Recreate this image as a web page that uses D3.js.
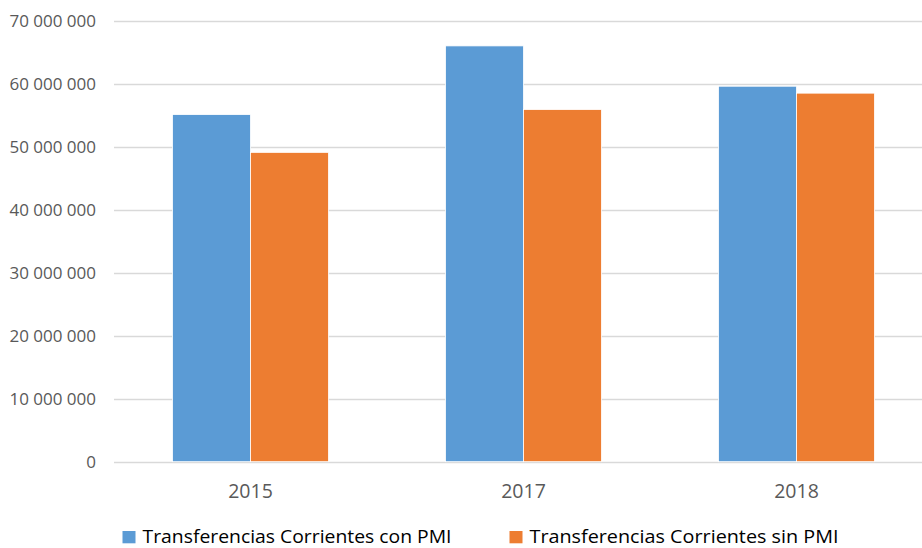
<!DOCTYPE html>
<html>
<head>
<meta charset="utf-8">
<script src="https://cdn.jsdelivr.net/npm/d3@7"></script>
<style>
  html, body { margin: 0; padding: 0; background: #fff; }
  svg { display: block; font-family: "Open Sans", sans-serif; }
</style>
</head>
<body>
<div id="chart"></div>
<script>
// ── Data ──────────────────────────────────────────────────────────────────
const years = ["2015", "2017", "2018"];
const seriesNames = ["Transferencias Corrientes con PMI", "Transferencias Corrientes sin PMI"];
const conPMI = [55100000, 66000000, 59600000];
const sinPMI = [49100000, 55900000, 58500000];
const yTicks = [0, 10000000, 20000000, 30000000, 40000000, 50000000, 60000000, 70000000];
const colors = ["#5B9BD5", "#ED7D31"];

const W = 922, H = 548;
const rows = years.map((y, i) => ({ year: y, values: [conPMI[i], sinPMI[i]] }));

const svg = d3.select("#chart").append("svg").attr("width", W).attr("height", H);

// plot area runs past the right edge (the reference is cropped there)
const x0 = d3.scaleBand().domain(years).range([114, 933]).padding(0);
const x1 = d3.scaleBand().domain([0, 1]).range([0, x0.bandwidth()]).paddingInner(0).paddingOuter(0.75);
const y = d3.scaleLinear().domain([0, 70000000]).range([461.7, 20.7]);

const fmt = (v) => d3.format(",")(v).replace(/,/g, " ");

// ── Gridlines ─────────────────────────────────────────────────────────────
svg.append("g")
  .selectAll("line")
  .data(yTicks)
  .join("line")
  .attr("x1", 114)
  .attr("x2", W)
  .attr("y1", (d) => Math.round(y(d)) + 0.5)
  .attr("y2", (d) => Math.round(y(d)) + 0.5)
  .attr("stroke", "#d9d9d9")
  .attr("stroke-width", 1.3);

// ── Y labels ──────────────────────────────────────────────────────────────
svg.append("g")
  .selectAll("text")
  .data(yTicks)
  .join("text")
  .attr("x", 96)
  .attr("y", (d) => y(d) + 6.5)
  .attr("text-anchor", "end")
  .attr("fill", "#595959")
  .attr("font-size", 17)
  .text((d) => fmt(d));

// ── Bars ──────────────────────────────────────────────────────────────────
svg.append("g")
  .selectAll("g")
  .data(rows)
  .join("g")
  .attr("transform", (d) => `translate(${x0(d.year)},0)`)
  .selectAll("rect")
  .data((d) => d.values.map((v, i) => ({ v, i })))
  .join("rect")
  .attr("x", (d) => x1(d.i))
  .attr("width", x1.bandwidth())
  .attr("y", (d) => y(d.v))
  .attr("height", (d) => y(0) - y(d.v))
  .attr("fill", (d) => colors[d.i])
  .attr("stroke", "#fff")
  .attr("stroke-width", 0.8);

// ── X labels ──────────────────────────────────────────────────────────────
svg.append("g")
  .selectAll("text")
  .data(years)
  .join("text")
  .attr("x", (d) => x0(d) + x0.bandwidth() / 2)
  .attr("y", 498)
  .attr("text-anchor", "middle")
  .attr("fill", "#595959")
  .attr("font-size", 19.5)
  .text((d) => d);

// ── Legend ────────────────────────────────────────────────────────────────
const legendX = [122.5, 509.5];
const legend = svg.append("g")
  .selectAll("g")
  .data(seriesNames)
  .join("g")
  .attr("transform", (d, i) => `translate(${legendX[i]},543.3)`);

legend.append("rect")
  .attr("y", -12.3)
  .attr("width", 13)
  .attr("height", 12.3)
  .attr("fill", (d, i) => colors[i]);

legend.append("text")
  .attr("x", 20)
  .attr("fill", "#000")
  .attr("font-size", 18)
  .attr("textLength", 309)
  .attr("lengthAdjust", "spacingAndGlyphs")
  .text((d) => d);
</script>
</body>
</html>
